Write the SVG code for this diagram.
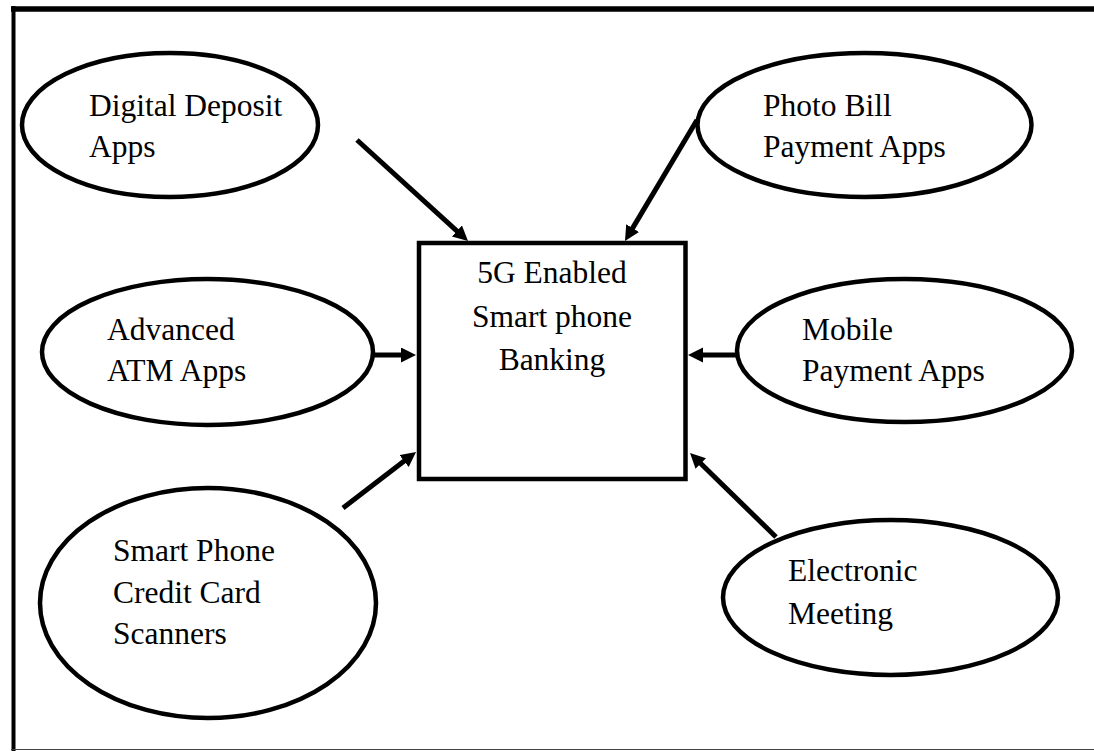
<svg xmlns="http://www.w3.org/2000/svg" width="1094" height="751" viewBox="0 0 1094 751">
<style>
.node ellipse, .node rect { fill: #fff; stroke: #000; stroke-width: 4.5; }
.t { font-family: "Liberation Serif", "Times New Roman", serif; font-size: 31.5px; fill: #000; }
.c { text-anchor: middle; }
.conn line { stroke: #000; stroke-width: 5; }
</style>
<defs>
<marker id="ah" markerUnits="userSpaceOnUse" markerWidth="16" markerHeight="16" refX="5" refY="7.5" orient="auto">
<path d="M0,0 L15,7.5 L0,15 z" fill="#000"/>
</marker>
</defs>
<rect width="1094" height="751" fill="#fff"/>
<g id="frame">
<line x1="11" y1="9" x2="1094" y2="9" stroke="#000" stroke-width="5.5"/>
<line x1="13.5" y1="6" x2="13.5" y2="751" stroke="#000" stroke-width="4"/>
<line x1="11" y1="749.5" x2="1094" y2="749.5" stroke="#444" stroke-width="1.2"/>
</g>
<g id="n-digital" class="node">
<ellipse cx="170" cy="125" rx="148" ry="72"/>
<text class="t" x="89" y="116">Digital Deposit</text>
<text class="t" x="89" y="157">Apps</text>
</g>
<g id="n-photo" class="node">
<ellipse cx="864.5" cy="125" rx="167" ry="72"/>
<text class="t" x="763" y="116">Photo Bill</text>
<text class="t" x="763" y="157">Payment Apps</text>
</g>
<g id="n-atm" class="node">
<ellipse cx="207.5" cy="352" rx="165.5" ry="73"/>
<text class="t" x="107" y="340">Advanced</text>
<text class="t" x="107" y="381">ATM Apps</text>
</g>
<g id="n-mobile" class="node">
<ellipse cx="904.5" cy="350.5" rx="167.5" ry="71.5"/>
<text class="t" x="802" y="340">Mobile</text>
<text class="t" x="802" y="381">Payment Apps</text>
</g>
<g id="n-credit" class="node">
<ellipse cx="208" cy="603" rx="168" ry="115"/>
<text class="t" x="113" y="561">Smart Phone</text>
<text class="t" x="113" y="603">Credit Card</text>
<text class="t" x="113" y="644">Scanners</text>
</g>
<g id="n-meeting" class="node">
<ellipse cx="890.5" cy="597.5" rx="167.5" ry="77.5"/>
<text class="t" x="788" y="581">Electronic</text>
<text class="t" x="788" y="624">Meeting</text>
</g>
<g id="n-center" class="node">
<rect x="419" y="243" width="266.5" height="236"/>
<text class="t c" x="552" y="283">5G Enabled</text>
<text class="t c" x="552" y="327">Smart phone</text>
<text class="t c" x="552" y="370">Banking</text>
</g>
<g id="connectors" class="conn">
<line x1="357" y1="140" x2="460.6" y2="234.3" marker-end="url(#ah)"/>
<line x1="697" y1="120" x2="630.1" y2="232.4" marker-end="url(#ah)"/>
<line x1="374" y1="355" x2="406" y2="355" marker-end="url(#ah)"/>
<line x1="737" y1="355" x2="698" y2="355" marker-end="url(#ah)"/>
<line x1="343" y1="508" x2="408.1" y2="458.1" marker-end="url(#ah)"/>
<line x1="776" y1="537" x2="697.2" y2="460" marker-end="url(#ah)"/>
</g>
</svg>
